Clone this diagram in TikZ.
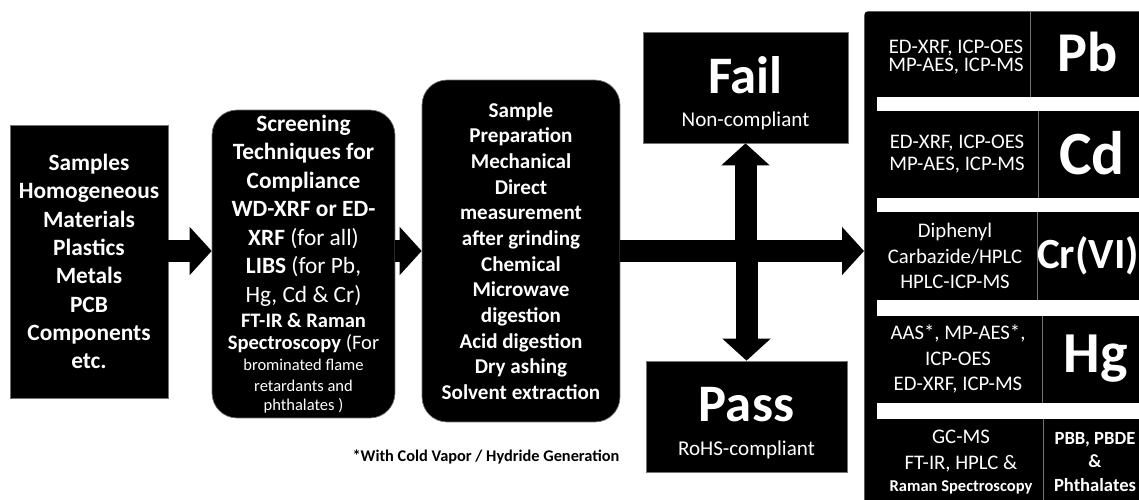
\documentclass[tikz,border=0pt]{standalone}
\usepackage{fontspec}
\setmainfont{Carlito}
\usetikzlibrary{arrows.meta}
\usetikzlibrary{positioning}
\tikzset{
	block/.style={fill=black, draw=black!55, line width=0.4pt, text=white, align=center, inner sep=0pt},
	roundblock/.style={block, rounded corners=0.5cm},
	blockarrow/.style={line width=0.44cm, -{Triangle[length=0.44cm,width=0.94cm]}},
	method/.style={text=white, align=center, font=\fontsize{11.8}{14.4}\selectfont},
	element/.style={text=white, font=\fontsize{32}{34}\selectfont\bfseries},
	divider/.style={draw=black!55, line width=0.5pt}
}

\begin{document}
\begin{tikzpicture}[x=0.02cm, y=-0.02cm]
	\clip (0,0) rectangle (1139,500);
	\fill[white] (0,0) rectangle (1139,500);
	
	% Samples
	\node[block, minimum width=3.16cm, minimum height=5.46cm, font=\fontsize{13.3}{16.1}\selectfont\bfseries] (samples) at (89,261.5)
	{Samples\\Homogeneous\\Materials\\Plastics\\Metals\\PCB\\Components\\etc.};
	
	% Screening
	\node[roundblock, minimum width=3.66cm, minimum height=6.16cm, font=\fontsize{13.3}{16.2}\selectfont\bfseries] (screen) at (303.5,264)
	{Screening\\Techniques for\\Compliance\\WD-XRF or ED-\\XRF {\mdseries (for all)}\\LIBS {\mdseries (for Pb,}\\{\mdseries Hg, Cd \& Cr)}\\[-2pt]
	{\fontsize{11.7}{14}\selectfont FT-IR \& Raman}\\[-3.7pt]
	{\fontsize{11.7}{14}\selectfont Spectroscopy {\mdseries (For}}\\[-4.2pt]
	{\mdseries\fontsize{9.4}{11}\selectfont brominated flame}\\[-4.2pt]
	{\mdseries\fontsize{9.4}{11}\selectfont retardants and}\\[-5.4pt]
	{\mdseries\fontsize{9.4}{11}\selectfont phthalates )}};
	
	% Sample preparation
	\node[roundblock, minimum width=3.96cm, minimum height=6.84cm, font=\fontsize{12}{14.6}\selectfont\bfseries] (prep) at (521,251)
	{Sample\\Preparation\\Mechanical\\Direct\\measurement\\after grinding\\Chemical\\Microwave\\digestion\\Acid digestion\\Dry ashing\\Solvent extraction};
	
	\node[font=\fontsize{9.3}{11}\selectfont\bfseries] (note) at (486,457) {*With Cold Vapor / Hydride Generation};
	
	% Fail and pass
	\node[block, minimum width=4.1cm, minimum height=2.22cm, font=\fontsize{12}{14.5}\selectfont] (fail) at (745.5,87.5)
	{\rule{0pt}{27pt}{\fontsize{30}{32}\selectfont\bfseries Fail}\\[4.3pt]Non-compliant};
	\node[block, minimum width=4.02cm, minimum height=2.22cm, font=\fontsize{12}{14.5}\selectfont] (pass) at (746.5,416.5)
	{\rule{0pt}{27pt}{\fontsize{30}{32}\selectfont\bfseries Pass}\\[4.8pt]RoHS-compliant};
	
	% Right panel
	\node[fill=black, rounded corners=2pt, minimum width=5.9cm, minimum height=10.2cm, anchor=north west, inner sep=0pt] (panel) at (864,11) {};
	\foreach \ya/\yb in {97/111, 198/212, 300/316, 403/419}
		\fill[white] (877,\ya) rectangle (1150,\yb);
	\foreach \xd/\ya/\yb in {1030/11/97, 1038/111/198, 1037/212/300, 1042/316/403, 1043/419/500}
		\draw[divider] (\xd,\ya) -- (\xd,\yb);
	
	\node[method, font=\fontsize{11.8}{10.5}\selectfont] (pbtech) at (956,57) {ED-XRF, ICP-OES\\MP-AES, ICP-MS};
	\node[method, font=\fontsize{11.8}{12.5}\selectfont] (cdtech) at (957,154) {ED-XRF, ICP-OES\\MP-AES, ICP-MS};
	\node[method] (crtech) at (955,256) {Diphenyl\\Carbazide/HPLC\\HPLC-ICP-MS};
	\node[method] (hgtech) at (958,359) {AAS*, MP-AES*,\\ICP-OES\\ED-XRF, ICP-MS};
	\node[method] (pbbtech) at (961,462) {GC-MS\\FT-IR, HPLC \&\\[-1.9pt]{\bfseries\fontsize{9.4}{11}\selectfont Raman Spectroscopy}};
	
	\node[element] (pb) at (1088,52) {Pb};
	\node[element, font=\fontsize{35}{36}\selectfont\bfseries] (cd) at (1092,153) {Cd};
	\node[element, font=\fontsize{24.5}{26}\selectfont\bfseries] (cr) at (1088,256) {Cr(VI)};
	\node[element, font=\fontsize{33}{34}\selectfont\bfseries] (hg) at (1096,359) {Hg};
	\node[text=white, align=center, font=\fontsize{10.6}{13.4}\selectfont\bfseries] (pbb) at (1095,462) {PBB, PBDE\\\&\\Phthalates};
	
	% Arrows
	\draw[blockarrow] (samples.east |- prep.east) -- (screen.west |- prep.east);
	\draw[blockarrow] (screen.east |- prep.east) -- (prep.west);
	\draw[blockarrow] (prep.east) -- (prep.east -| panel.west);
	\coordinate (split) at (fail.south |- prep.east);
	\draw[blockarrow] (split) -- (fail.south);
	\draw[blockarrow] (pass.north |- prep.east) -- (pass.north);
\end{tikzpicture}
\end{document}
